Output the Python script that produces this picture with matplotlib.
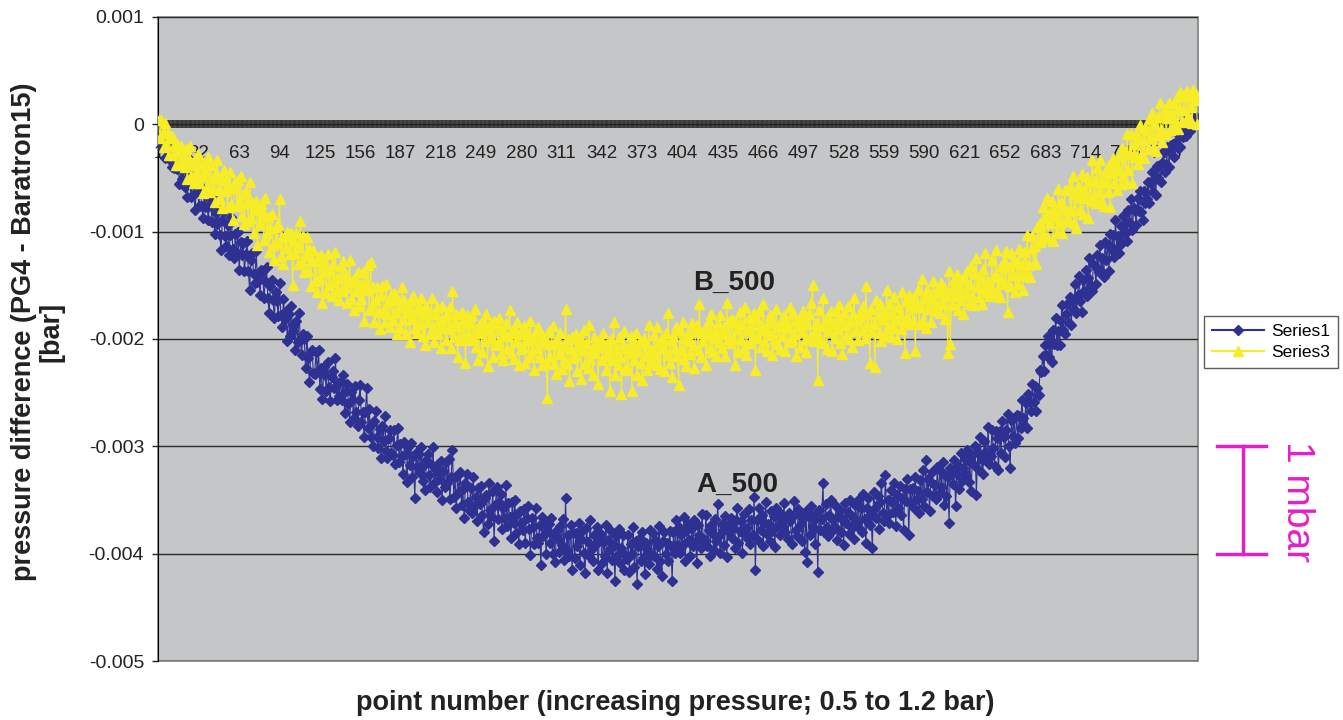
import numpy as np
import matplotlib
matplotlib.use('Agg')
import matplotlib.pyplot as plt
import matplotlib.transforms as mtransforms
from matplotlib.lines import Line2D
from matplotlib.ticker import FixedLocator, FixedFormatter

plt.rcParams['font.family'] = ['Liberation Sans', 'DejaVu Sans']

COLORS = {
    'series1': '#2e3192',
    'series3': '#f7ec28',
    'plot_bg': '#c5c6c8',
    'grid': '#2a2a2a',
    'text': '#222222',
    'scale': '#e61ec8',
}

# readings in units of 1e-5 bar (0.01 mbar), one value per point number 1..800
series1_e5 = [
    -8, -20, -8, -21, -15, -31, -22, -19, -32, -20, -40, -31, -41, -29, -42, -37, -56, -42, -51, -41,
    -58, -43, -68, -50, -55, -68, -48, -65, -80, -58, -62, -76, -57, -76, -87, -65, -77, -64, -89, -76,
    -70, -91, -65, -102, -83, -93, -77, -103, -117, -89, -82, -104, -113, -94, -122, -103, -86, -116, -125, -102,
    -120, -100, -136, -110, -122, -111, -137, -121, -109, -137, -154, -126, -120, -139, -148, -118, -147, -140, -159, -136,
    -137, -162, -146, -133, -162, -176, -151, -145, -164, -180, -156, -165, -179, -148, -178, -189, -163, -181, -174, -202,
    -177, -197, -169, -193, -187, -210, -183, -203, -176, -200, -215, -195, -200, -227, -197, -218, -240, -212, -210, -232,
    -233, -212, -231, -210, -247, -227, -256, -226, -234, -248, -221, -245, -258, -235, -230, -246, -218, -257, -241, -253,
    -239, -257, -234, -269, -248, -242, -261, -277, -249, -257, -274, -244, -268, -281, -257, -243, -277, -268, -291, -268,
    -246, -283, -265, -291, -279, -300, -276, -267, -291, -302, -284, -311, -281, -295, -272, -304, -311, -292, -285, -306,
    -308, -285, -316, -299, -283, -315, -298, -309, -326, -296, -307, -333, -301, -317, -297, -329, -309, -348, -306, -319,
    -307, -325, -301, -332, -317, -341, -313, -307, -327, -338, -317, -301, -334, -322, -343, -316, -330, -314, -350, -323,
    -338, -315, -334, -312, -349, -329, -303, -347, -329, -357, -327, -343, -324, -355, -340, -367, -334, -326, -352, -359,
    -339, -362, -329, -355, -347, -370, -339, -354, -337, -364, -380, -348, -345, -372, -334, -359, -365, -342, -388, -355,
    -338, -368, -352, -344, -377, -357, -367, -336, -374, -353, -366, -385, -352, -371, -350, -381, -363, -391, -360, -371,
    -378, -358, -390, -367, -356, -377, -401, -367, -375, -391, -357, -385, -390, -373, -411, -366, -384, -372, -400, -379,
    -372, -390, -367, -400, -383, -408, -379, -386, -398, -374, -392, -368, -406, -348, -397, -383, -402, -373, -415, -381,
    -404, -381, -393, -371, -411, -386, -379, -399, -418, -376, -389, -402, -369, -396, -407, -383, -392, -375, -415, -386,
    -382, -409, -389, -402, -373, -418, -387, -396, -379, -406, -392, -425, -384, -401, -377, -409, -395, -383, -415, -401,
    -405, -383, -417, -391, -400, -375, -412, -388, -428, -393, -385, -407, -380, -403, -419, -390, -396, -410, -378, -401,
    -381, -402, -387, -414, -393, -374, -407, -421, -388, -380, -400, -390, -407, -379, -393, -425, -380, -399, -369, -392,
    -375, -399, -382, -392, -366, -407, -379, -372, -387, -402, -376, -393, -369, -388, -409, -373, -383, -395, -363, -389,
    -387, -364, -393, -378, -402, -373, -381, -397, -368, -388, -354, -384, -399, -372, -378, -392, -365, -403, -373, -380,
    -367, -385, -376, -395, -369, -357, -390, -379, -370, -399, -363, -382, -376, -386, -358, -391, -369, -383, -347, -415,
    -369, -387, -357, -378, -364, -393, -371, -352, -382, -372, -388, -360, -379, -365, -394, -357, -374, -361, -383, -368,
    -375, -353, -380, -367, -386, -362, -370, -391, -365, -351, -378, -384, -358, -373, -363, -388, -368, -398, -360, -408,
    -363, -383, -356, -375, -369, -391, -362, -417, -359, -378, -368, -334, -380, -354, -375, -384, -364, -350, -379, -369,
    -375, -356, -387, -365, -359, -380, -368, -392, -353, -371, -361, -382, -350, -376, -366, -386, -355, -371, -350, -376,
    -357, -380, -344, -368, -390, -357, -348, -373, -364, -395, -343, -357, -367, -346, -377, -352, -334, -362, -370, -327,
    -365, -350, -371, -341, -352, -361, -334, -374, -345, -357, -337, -364, -348, -378, -340, -351, -330, -383, -340, -353,
    -339, -357, -329, -349, -342, -362, -331, -349, -322, -356, -313, -343, -330, -360, -333, -324, -346, -336, -349, -319,
    -344, -322, -338, -315, -355, -327, -346, -329, -371, -320, -322, -335, -313, -356, -326, -318, -340, -306, -332, -320,
    -312, -327, -303, -333, -315, -342, -308, -317, -300, -345, -306, -322, -291, -313, -326, -295, -305, -314, -282, -316,
    -309, -285, -302, -318, -286, -292, -322, -286, -306, -276, -291, -310, -285, -270, -300, -320, -275, -290, -274, -297,
    -271, -292, -272, -283, -257, -274, -280, -260, -283, -251, -259, -267, -242, -259, -244, -267, -246, -252, -229, -231,
    -216, -230, -206, -216, -197, -217, -205, -221, -192, -205, -180, -206, -193, -206, -183, -168, -192, -195, -177, -167,
    -185, -161, -187, -164, -172, -149, -176, -159, -141, -165, -175, -145, -155, -136, -160, -143, -125, -151, -155, -130,
    -132, -149, -122, -138, -112, -137, -125, -142, -110, -126, -112, -137, -102, -117, -103, -124, -89, -115, -104, -120,
    -95, -111, -85, -102, -92, -109, -80, -92, -70, -98, -78, -81, -94, -69, -81, -62, -82, -89, -62, -73,
    -70, -54, -73, -55, -44, -63, -51, -66, -39, -50, -38, -54, -36, -25, -44, -37, -21, -40, -26, -19,
    -18, -30, -17, -8, -22, -10, -21, -4, -12, 3, -11, -3, 5, -6, 9, -2, 8, 1, 7, 0,
]

series3_e5 = [
    4, -13, 4, -7, -21, 1, -18, -8, -29, -13, -11, -29, -20, -38, -18, -26, -38, -20, -37, -30,
    -40, -23, -51, -32, -20, -48, -37, -55, -32, -47, -28, -55, -38, -48, -64, -35, -44, -57, -30, -63,
    -38, -60, -50, -72, -45, -33, -61, -70, -51, -78, -43, -62, -52, -77, -58, -44, -75, -89, -59, -54,
    -76, -52, -71, -48, -85, -65, -93, -63, -73, -90, -54, -87, -72, -101, -79, -71, -112, -80, -93, -74,
    -84, -108, -69, -101, -86, -119, -97, -84, -112, -126, -96, -111, -93, -70, -123, -105, -130, -104, -115, -100,
    -105, -121, -101, -150, -109, -120, -101, -130, -114, -90, -128, -104, -138, -122, -105, -137, -116, -151, -126, -117,
    -146, -127, -156, -124, -144, -122, -166, -138, -130, -157, -121, -150, -137, -160, -130, -147, -119, -155, -143, -164,
    -132, -155, -127, -152, -140, -166, -147, -126, -163, -146, -173, -143, -155, -138, -169, -150, -163, -138, -183, -148,
    -154, -131, -173, -128, -168, -152, -184, -164, -152, -175, -191, -159, -151, -172, -184, -149, -177, -164, -189, -159,
    -182, -157, -176, -195, -164, -170, -190, -152, -182, -164, -195, -176, -170, -203, -164, -181, -160, -190, -174, -194,
    -169, -187, -162, -197, -177, -206, -169, -184, -175, -195, -162, -189, -203, -177, -170, -195, -183, -208, -169, -190,
    -181, -201, -177, -191, -170, -208, -155, -198, -184, -177, -217, -188, -201, -175, -197, -182, -222, -178, -196, -185,
    -201, -178, -197, -172, -207, -191, -220, -186, -194, -212, -184, -202, -177, -225, -191, -186, -199, -217, -183, -206,
    -186, -203, -180, -214, -192, -220, -196, -185, -209, -197, -173, -213, -194, -219, -191, -203, -184, -224, -195, -209,
    -207, -188, -222, -194, -201, -217, -183, -212, -200, -229, -193, -208, -189, -217, -199, -224, -197, -204, -222, -255,
    -193, -217, -205, -188, -223, -203, -233, -201, -214, -194, -228, -207, -220, -172, -223, -200, -239, -209, -198, -218,
    -216, -195, -230, -206, -200, -237, -210, -192, -223, -204, -227, -187, -219, -209, -234, -198, -213, -202, -242, -207,
    -201, -220, -194, -216, -229, -205, -212, -248, -200, -220, -184, -234, -209, -224, -198, -217, -251, -206, -193, -228,
    -208, -229, -213, -197, -248, -205, -220, -194, -234, -211, -202, -222, -238, -199, -216, -205, -229, -187, -223, -210,
    -221, -196, -215, -189, -224, -205, -228, -199, -208, -230, -194, -215, -176, -222, -201, -235, -197, -209, -189, -216,
    -243, -192, -210, -184, -219, -199, -225, -194, -202, -214, -185, -206, -227, -193, -187, -210, -167, -217, -194, -202,
    -190, -224, -196, -183, -208, -177, -212, -193, -199, -216, -185, -203, -178, -208, -195, -189, -216, -166, -200, -183,
    -204, -181, -199, -224, -184, -191, -212, -175, -201, -186, -208, -170, -215, -192, -180, -204, -187, -198, -176, -229,
    -181, -199, -174, -207, -190, -167, -202, -192, -211, -185, -178, -196, -215, -183, -200, -172, -205, -188, -209, -183,
    -197, -178, -211, -185, -190, -203, -170, -200, -176, -195, -216, -183, -188, -207, -181, -193, -174, -201, -212, -186,
    -177, -198, -166, -150, -194, -202, -185, -238, -173, -199, -188, -162, -204, -182, -209, -179, -193, -174, -211, -185,
    -199, -174, -191, -168, -204, -182, -214, -176, -187, -197, -169, -200, -183, -207, -177, -162, -193, -183, -201, -178,
    -175, -192, -169, -199, -151, -188, -177, -222, -172, -193, -186, -226, -164, -178, -194, -167, -202, -176, -181, -196,
    -154, -190, -167, -198, -177, -190, -161, -182, -200, -170, -177, -191, -156, -183, -213, -165, -180, -159, -186, -169,
    -183, -161, -211, -168, -154, -186, -170, -144, -182, -163, -190, -154, -172, -158, -184, -163, -146, -174, -167, -154,
    -157, -176, -148, -167, -152, -181, -159, -213, -137, -205, -154, -168, -145, -160, -139, -173, -152, -164, -144, -177,
    -145, -159, -137, -167, -150, -132, -160, -168, -139, -125, -152, -161, -144, -167, -135, -153, -120, -156, -146, -160,
    -152, -126, -158, -141, -117, -155, -142, -161, -132, -146, -127, -149, -118, -175, -133, -151, -120, -140, -128, -156,
    -128, -149, -116, -140, -130, -154, -119, -139, -103, -131, -142, -116, -104, -129, -113, -130, -96, -110, -92, -109,
    -77, -102, -87, -69, -106, -83, -92, -71, -109, -79, -86, -100, -60, -92, -72, -101, -77, -61, -89, -81,
    -90, -57, -81, -48, -92, -64, -97, -57, -68, -80, -46, -84, -61, -69, -49, -87, -53, -71, -33, -68,
    -52, -73, -41, -64, -33, -72, -54, -76, -44, -54, -63, -38, -77, -45, -31, -55, -38, -61, -43, -29,
    -56, -22, -47, -25, -55, -9, -43, -28, -9, -55, -18, -30, -9, -37, -15, -1, -29, -15, -31, -3,
    -5, -23, 5, -13, 11, -22, 0, -25, 7, -10, 20, -4, -16, 9, 14, -9, 6, 20, -5, 10,
    -4, 20, 2, 25, -4, 14, 30, 3, 13, 27, 2, 31, 8, 26, 16, 1, 32, 23, 28, 0,
]

n_categories = 800
x_tick_labels = [str(v) for v in range(1, 777, 31)]
y_tick_values = [-0.005, -0.004, -0.003, -0.002, -0.001, 0.0, 0.001]
y_tick_labels = ['-0.005', '-0.004', '-0.003', '-0.002', '-0.001', '0', '0.001']

s1 = np.array(series1_e5) * 1e-5
s3 = np.array(series3_e5) * 1e-5
x1 = np.arange(1, len(s1) + 1)
x3 = np.arange(1, len(s3) + 1)

W, H = 1343, 720
fig = plt.figure(figsize=(W / 100, H / 100), dpi=100, facecolor='white')
ax = fig.add_axes([158 / W, 59 / H, 1040 / W, 644 / H])
ax.set_facecolor(COLORS['plot_bg'])
ax.patch.set_edgecolor('#808080')
ax.patch.set_linewidth(1.2)

ax.plot(x1, s1, color=COLORS['series1'], lw=0.8, marker='D', ms=4.8,
        mfc=COLORS['series1'], mec=COLORS['series1'], zorder=3)
ax.plot(x3, s3, color=COLORS['series3'], lw=0.8, marker='^', ms=7.5,
        mfc=COLORS['series3'], mec=COLORS['series3'], zorder=4)

ax.set_xlim(0.5, n_categories + 0.5)
ax.set_ylim(-0.005, 0.001)

# y axis, gridlines
ax.set_axisbelow(True)
ax.yaxis.set_major_locator(FixedLocator(y_tick_values))
ax.yaxis.set_major_formatter(FixedFormatter(y_tick_labels))
ax.yaxis.grid(True, color=COLORS['grid'], lw=1)
ax.tick_params(axis='y', direction='out', length=4, width=1, labelsize=14,
               pad=6, colors=COLORS['text'])

# category axis crossing at zero, a tick for every point
ax.spines['top'].set_visible(False)
ax.spines['right'].set_visible(False)
ax.spines['left'].set_color('black')
ax.spines['bottom'].set_position(('data', 0))
ax.spines['bottom'].set_color('#222222')
ax.spines['bottom'].set_zorder(2)
ax.xaxis.set_major_locator(FixedLocator([int(v) for v in x_tick_labels]))
ax.xaxis.set_major_formatter(FixedFormatter(x_tick_labels))
ax.xaxis.set_minor_locator(FixedLocator(np.arange(1, n_categories + 1)))
ax.tick_params(axis='x', which='both', direction='inout', length=5.5, width=1.3,
               color='#3a3a3a')
ax.tick_params(axis='x', which='major', labelsize=13.5, pad=12,
               labelcolor=COLORS['text'])

ax.text(444, -0.00148, 'B_500', ha='center', va='center', fontsize=20,
        fontweight='bold', color=COLORS['text'], zorder=5)
ax.text(446, -0.00336, 'A_500', ha='center', va='center', fontsize=20,
        fontweight='bold', color=COLORS['text'], zorder=5)

fig.text(38 / W, 1 - 332 / H, 'pressure difference (PG4 - Baratron15)\n[bar]',
         rotation=90, ha='center', va='center', fontsize=19.5, fontweight='bold',
         linespacing=1.05, color=COLORS['text'])
fig.text(675 / W, 1 - 703 / H, 'point number (increasing pressure; 0.5 to 1.2 bar)',
         ha='center', va='center', fontsize=19.5, fontweight='bold', color=COLORS['text'])

handles = [
    Line2D([0], [0], color=COLORS['series1'], lw=1.5, marker='D', ms=5, label='Series1'),
    Line2D([0], [0], color=COLORS['series3'], lw=1.5, marker='^', ms=7, label='Series3'),
]
leg = fig.legend(handles=handles, loc='center', bbox_to_anchor=(1271 / W, 1 - 342 / H),
                 frameon=True, fancybox=False, fontsize=12.5, handlelength=3.0,
                 borderpad=0.45, labelspacing=0.35, handletextpad=0.4,
                 borderaxespad=0)
leg.get_frame().set_edgecolor('#333333')
leg.get_frame().set_linewidth(1)

# 1 mbar scale bar, vertical extent in data units
trans = mtransforms.blended_transform_factory(fig.transFigure, ax.transData)
bar_x = 1243 / W
fig.add_artist(Line2D([bar_x, bar_x], [-0.003, -0.004], transform=trans,
                      color=COLORS['scale'], lw=2.5))
for yv in (-0.003, -0.004):
    fig.add_artist(Line2D([1217 / W, 1266 / W], [yv, yv], transform=trans,
                          color=COLORS['scale'], lw=2.5))
fig.text(1297 / W, 1 - 502 / H, '1 mbar', rotation=-90, ha='center', va='center',
         fontsize=28, color=COLORS['scale'])

plt.savefig('out.png', dpi=100, facecolor='white')
plt.close()
